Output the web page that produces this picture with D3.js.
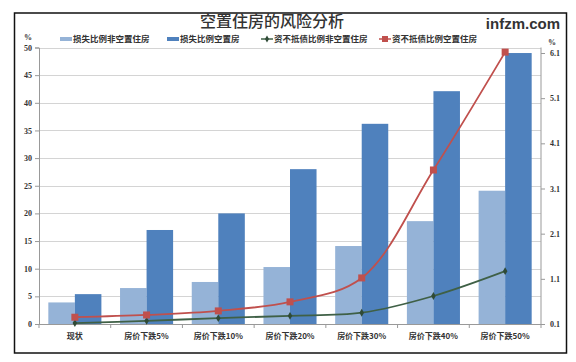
<!DOCTYPE html>
<html>
<head>
<meta charset="utf-8">
<script src="https://cdn.jsdelivr.net/npm/d3@7"></script>
<style>
  body { margin: 0; background: #fff; }
  text { font-family: "Noto Sans CJK SC", "Noto Sans", sans-serif; fill: #333; }
  .num { font-family: "Liberation Serif", "DejaVu Serif", serif; font-weight: bold; font-size: 8px; }
</style>
</head>
<body>
<svg id="chart"></svg>
<script>
const categories = ["现状", "房价下跌5%", "房价下跌10%", "房价下跌20%", "房价下跌30%", "房价下跌40%", "房价下跌50%"];
const lossNonVacant = [3.9, 6.5, 7.6, 10.3, 14.1, 18.6, 24.1];
const lossVacant = [5.4, 17.0, 20.0, 28.0, 36.2, 42.1, 49.0];
const insolvNonVacant = [0.12, 0.17, 0.23, 0.28, 0.35, 0.72, 1.27];
const insolvVacant = [0.25, 0.30, 0.39, 0.59, 1.12, 3.51, 6.12];
const leftTicks = [0, 5, 10, 15, 20, 25, 30, 35, 40, 45, 50];
const rightTicks = [0.1, 1.1, 2.1, 3.1, 4.1, 5.1, 6.1];

const size = { w: 576, h: 362 };
const plot = { l: 39, r: 541, t: 47.5, b: 324 };
const svg = d3.select("svg#chart").attr("width", size.w).attr("height", size.h);

// frame
svg.append("rect")
	.attr("x", 14.5).attr("y", 13).attr("width", 552).attr("height", 340)
	.attr("fill", "#fff").attr("stroke", "#111").attr("stroke-width", 1.5);

// scales
const x0 = d3.scaleBand().domain(categories).range([plot.l, plot.r]).paddingInner(0.26).paddingOuter(0.13);
const x1 = d3.scaleBand().domain([0, 1]).range([0, x0.bandwidth()]);
const yL = d3.scaleLinear().domain([0, 50]).range([plot.b, plot.t]);
const yR = d3.scaleLinear().domain([0.1, 6.1]).range([plot.b, 53]);

// gridlines
svg.append("g").selectAll("line").data(leftTicks.slice(1)).join("line")
	.attr("x1", plot.l).attr("x2", plot.r)
	.attr("y1", (d) => Math.round(yL(d)) + 0.5).attr("y2", (d) => Math.round(yL(d)) + 0.5)
	.attr("stroke", "#d4d4d4").attr("stroke-width", 1);

// bars
const barColors = ["#95b3d7", "#4f81bd"];
const barSeries = [lossNonVacant, lossVacant];
barSeries.forEach((vals, s) => {
	svg.append("g").selectAll("rect").data(vals).join("rect")
		.attr("x", (d, i) => x0(categories[i]) + x1(s))
		.attr("y", (d) => yL(d))
		.attr("width", x1.bandwidth())
		.attr("height", (d) => yL(0) - yL(d))
		.attr("fill", barColors[s]);
});

// left axis
const leftAxis = svg.append("g").attr("transform", `translate(${plot.l},0)`)
	.call(d3.axisLeft(yL).tickValues(leftTicks).tickSize(4).tickPadding(3));
leftAxis.select(".domain").attr("stroke", "#999");
leftAxis.selectAll(".tick line").attr("stroke", "#999");
leftAxis.selectAll("text").attr("class", "num").attr("fill", "#333");

// right axis
const rightAxis = svg.append("g").attr("transform", `translate(${plot.r},0)`)
	.call(d3.axisRight(yR).tickValues(rightTicks).tickFormat(d3.format(".1f")).tickSize(4).tickPadding(5));
rightAxis.select(".domain").attr("d", `M0,${plot.t}V${plot.b}`).attr("stroke", "#999");
rightAxis.selectAll(".tick line").attr("stroke", "#999");
rightAxis.selectAll("text").attr("class", "num").attr("fill", "#333");

// bottom axis
svg.append("line")
	.attr("x1", plot.l).attr("x2", plot.r).attr("y1", plot.b + 0.5).attr("y2", plot.b + 0.5)
	.attr("stroke", "#999");
const step = x0.step();
svg.append("g").selectAll("line").data(d3.range(categories.length + 1)).join("line")
	.attr("x1", (i) => plot.l + i * step).attr("x2", (i) => plot.l + i * step)
	.attr("y1", plot.b).attr("y2", plot.b + 4).attr("stroke", "#999");
svg.append("g").selectAll("text").data(categories).join("text")
	.attr("x", (d) => x0(d) + x0.bandwidth() / 2)
	.attr("y", 339)
	.attr("text-anchor", "middle")
	.attr("font-size", 8).attr("font-weight", "bold")
	.text((d) => d);

// lines
const lineGen = (ys) => d3.line()
	.x((d, i) => x0(categories[i]) + x0.bandwidth() / 2)
	.y((d) => ys(d))
	.curve(d3.curveCatmullRom.alpha(0.5));

svg.append("path").datum(insolvNonVacant)
	.attr("d", lineGen(yR)).attr("fill", "none")
	.attr("stroke", "#3f6046").attr("stroke-width", 1.8);
svg.append("g").selectAll("path").data(insolvNonVacant).join("path")
	.attr("d", d3.symbol(d3.symbolDiamond, 18))
	.attr("transform", (d, i) => `translate(${x0(categories[i]) + x0.bandwidth() / 2},${yR(d)})`)
	.attr("fill", "#2f4a36");

svg.append("path").datum(insolvVacant)
	.attr("d", lineGen(yR)).attr("fill", "none")
	.attr("stroke", "#c0504d").attr("stroke-width", 1.8);
svg.append("g").selectAll("rect").data(insolvVacant).join("rect")
	.attr("x", (d, i) => x0(categories[i]) + x0.bandwidth() / 2 - 3.5)
	.attr("y", (d) => yR(d) - 3.5)
	.attr("width", 7).attr("height", 7)
	.attr("fill", "#c0504d");

// title and labels
svg.append("text").attr("x", 272).attr("y", 27).attr("text-anchor", "middle")
	.attr("font-size", 16).attr("font-weight", 500).text("空置住房的风险分析");
svg.append("text").attr("x", 560).attr("y", 29).attr("text-anchor", "end")
	.attr("font-size", 15).attr("font-weight", "bold")
	.style("font-family", "Arial, 'Liberation Sans', sans-serif").attr("fill", "#444")
	.text("infzm.com");
svg.append("text").attr("x", 28).attr("y", 40).attr("text-anchor", "middle").attr("class", "num").text("%");
svg.append("text").attr("x", 552).attr("y", 45).attr("text-anchor", "middle").attr("class", "num").text("%");

// legend
const legendItems = [
	{ name: "损失比例非空置住房", x: 60, type: "bar", color: "#95b3d7" },
	{ name: "损失比例空置房", x: 167, type: "bar", color: "#4f81bd" },
	{ name: "资不抵债比例非空置住房", x: 261, type: "line", color: "#3f6046" },
	{ name: "资不抵债比例空置住房", x: 379, type: "line", color: "#c0504d" },
];
const legendY = 39;
const lg = svg.append("g").selectAll("g").data(legendItems).join("g")
	.attr("transform", (d) => `translate(${d.x},${legendY})`);
lg.append("line").attr("x1", 0).attr("x2", 12).attr("y1", 0).attr("y2", 0)
	.attr("stroke", (d) => d.color).attr("stroke-width", (d) => (d.type === "bar" ? 4 : 1.5));
lg.filter((d) => d.type === "line" && d.color === "#c0504d").append("rect")
	.attr("x", 3).attr("y", -3).attr("width", 6).attr("height", 6).attr("fill", "#c0504d");
lg.filter((d) => d.type === "line" && d.color !== "#c0504d").append("path")
	.attr("d", d3.symbol(d3.symbolDiamond, 14)).attr("transform", "translate(6,0)").attr("fill", "#2f4a36");
lg.append("text").attr("x", 13).attr("y", 3).attr("font-size", 8.5).attr("font-weight", "bold").text((d) => d.name);
</script>
</body>
</html>
